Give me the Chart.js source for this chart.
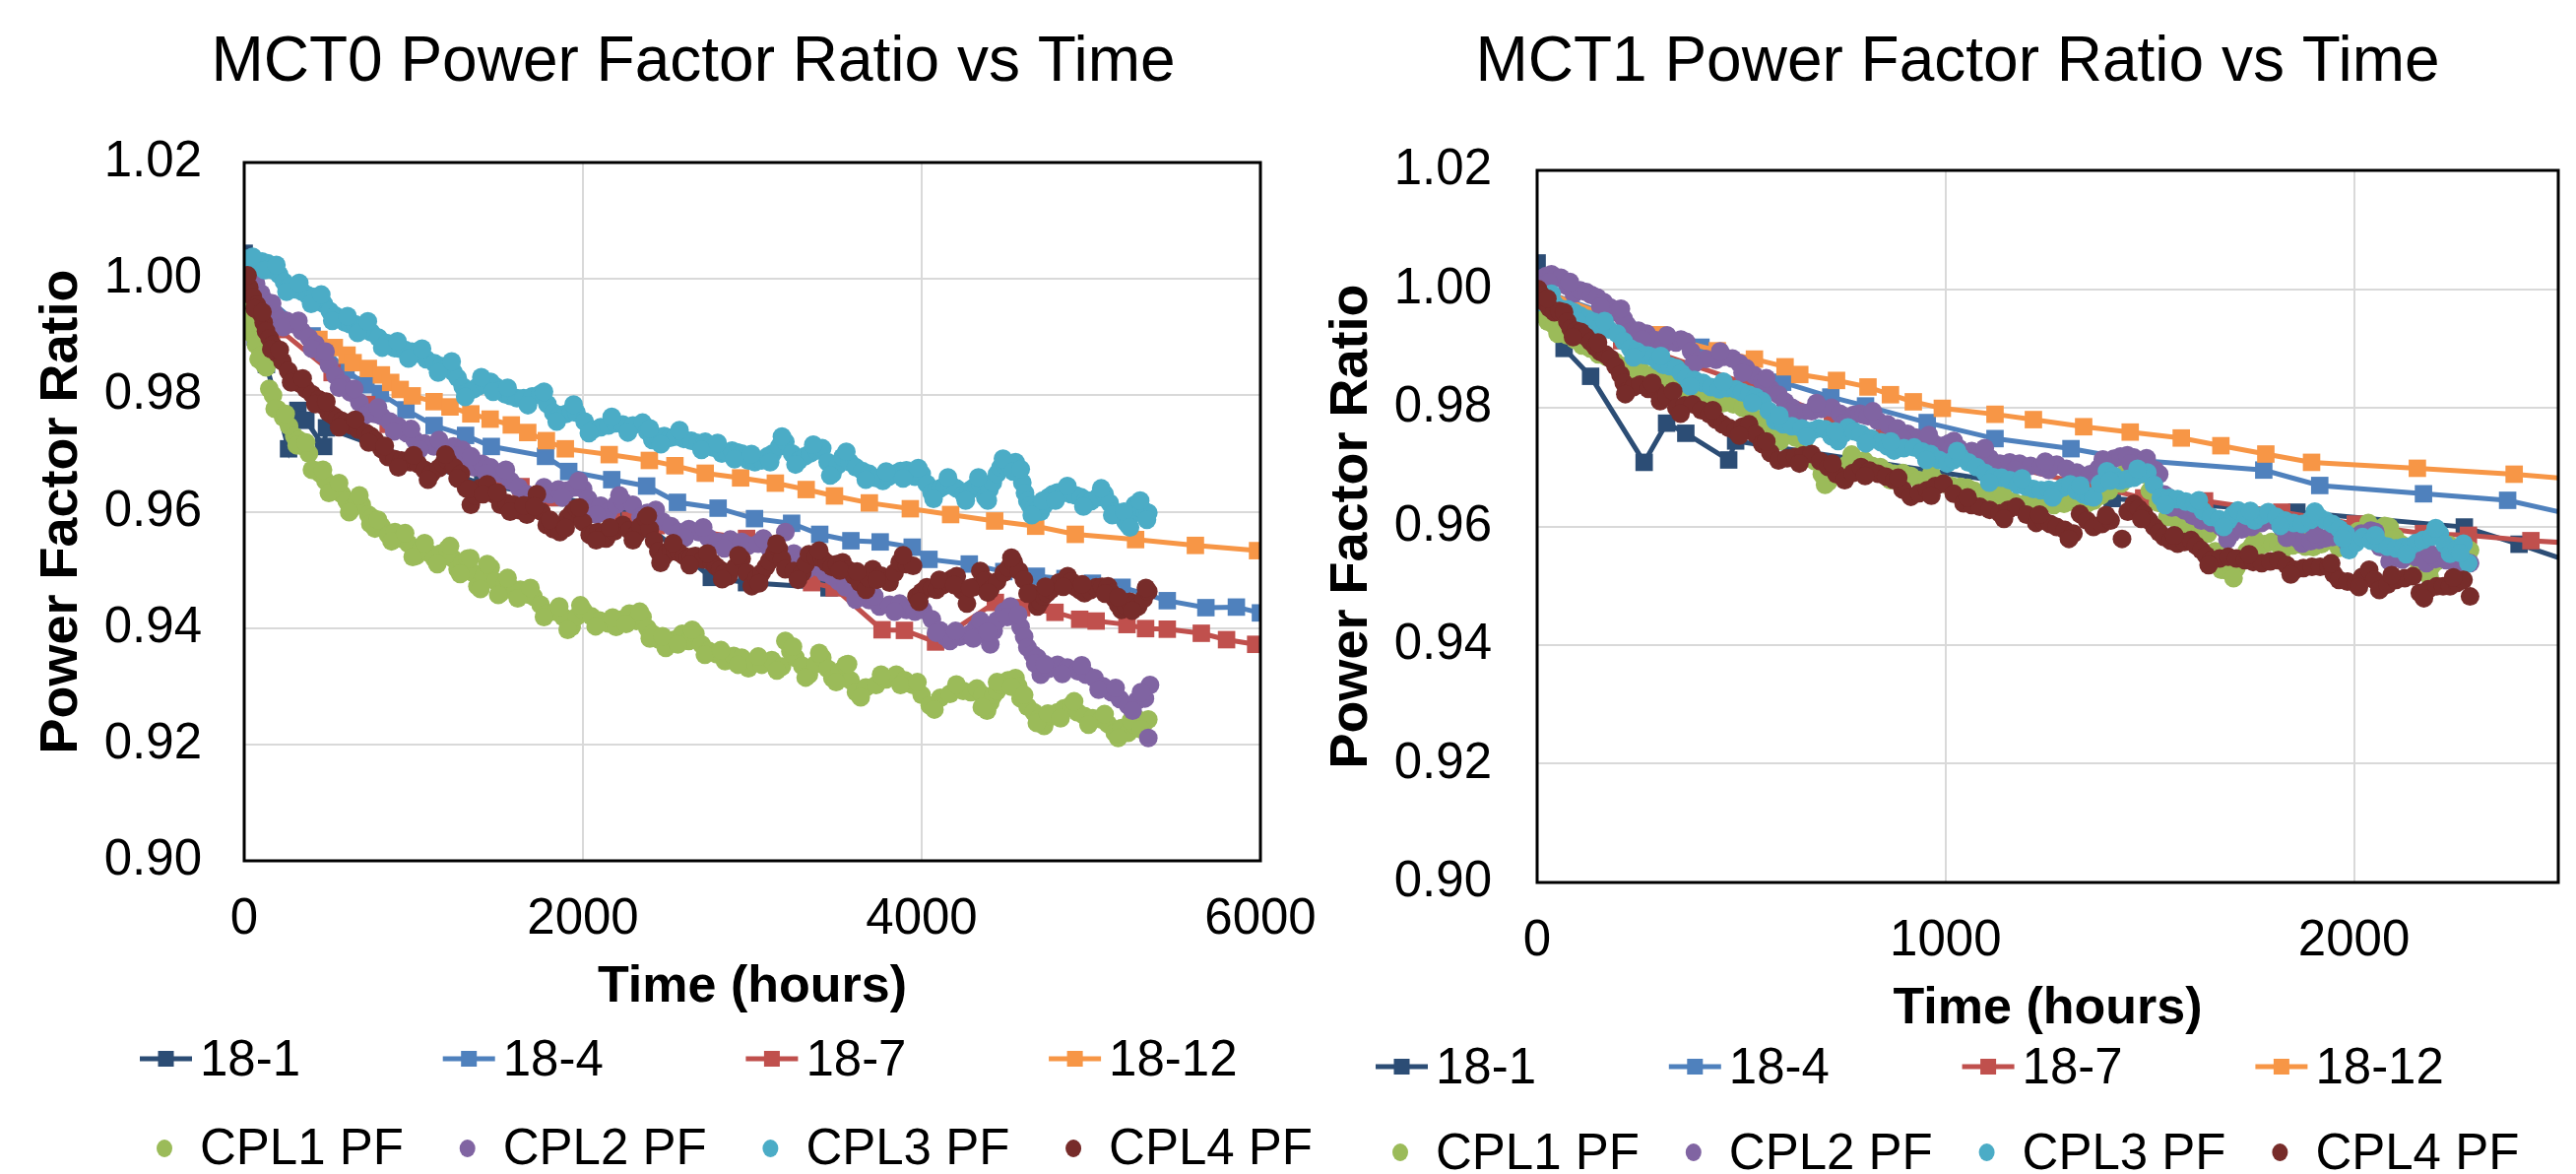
<!DOCTYPE html>
<html><head><meta charset="utf-8">
<script src="https://cdn.jsdelivr.net/npm/chart.js@4.4.1/dist/chart.umd.min.js"></script>
<style>
html,body{margin:0;padding:0;background:#fff;overflow:hidden}
#wrap{position:relative;width:2616px;height:1192px;background:#fff}
#c0{position:absolute;left:0;top:0;width:1400px;height:1192px}
#c1{position:absolute;left:1310px;top:0;width:1306px;height:1192px}
</style></head><body>
<div id="wrap"><canvas id="c0" width="1400" height="1192"></canvas><canvas id="c1" width="1306" height="1192"></canvas></div>
<script>
// ---------- DATA ----------
const titles = ['MCT0 Power Factor Ratio vs Time', 'MCT1 Power Factor Ratio vs Time'];
const xTitle = 'Time (hours)';
const yTitle = 'Power Factor Ratio';
const labels = ['18-1', '18-4', '18-7', '18-12', 'CPL1 PF', 'CPL2 PF', 'CPL3 PF', 'CPL4 PF'];
const colors = ['#2C4D75', '#4F81BD', '#C0504D', '#F79646', '#9BBB59', '#8064A2', '#4BACC6', '#772C2A'];
const yTicks = [0.90, 0.92, 0.94, 0.96, 0.98, 1.00, 1.02];
const xTicksLeft = [0, 2000, 4000, 6000];
const xTicksRight = [0, 1000, 2000];

// reference series (hours, ratio) - same in both panels
const s18_1 = [[0,1.0044],[66,0.9900],[131,0.9853],[262,0.9708],[317,0.9774],[364,0.9757],[469,0.9712],[486,0.9744],[1408,0.9647],[1486,0.9643],[1860,0.9624],[2270,0.9599],[2404,0.9570],[2758,0.9487],[2966,0.9478],[3453,0.9469]];
const s18_4 = [[0,1.0000],[401,0.9902],[601,0.9843],[719,0.9818],[804,0.9803],[955,0.9775],[1121,0.9748],[1307,0.9731],[1459,0.9712],[1779,0.9695],[1916,0.9669],[2170,0.9655],[2376,0.9644],[2558,0.9616],[2798,0.9606],[3013,0.9588],[3232,0.9580],[3398,0.9561],[3582,0.9550],[3755,0.9548],[3944,0.9539],[4043,0.9518],[4281,0.9510],[4485,0.9497],[4677,0.9489],[4846,0.9485],[5008,0.9477],[5183,0.9470],[5450,0.9447],[5678,0.9435],[5858,0.9436],[6000,0.9426]];
const s18_7 = [[0,1.0000],[207,0.9913],[519,0.9839],[723,0.9784],[850,0.9750],[1485,0.9648],[1634,0.9643],[1823,0.9624],[2003,0.9604],[2170,0.9588],[2280,0.9585],[2433,0.9576],[2966,0.9554],[3350,0.9478],[3483,0.9469],[3766,0.9397],[3898,0.9396],[4082,0.9376],[4435,0.9444],[4590,0.9435],[4787,0.9427],[4933,0.9415],[5030,0.9412],[5212,0.9406],[5322,0.9399],[5450,0.9398],[5651,0.9391],[5800,0.9380],[5972,0.9372]];
const s18_12 = [[0,1.0000],[294,0.9923],[441,0.9896],[532,0.9882],[607,0.9869],[643,0.9856],[733,0.9846],[810,0.9835],[865,0.9822],[921,0.9810],[992,0.9799],[1121,0.9789],[1215,0.9780],[1338,0.9768],[1452,0.9759],[1577,0.9749],[1674,0.9736],[1784,0.9722],[1896,0.9708],[2155,0.9698],[2392,0.9688],[2543,0.9679],[2722,0.9666],[2931,0.9658],[3136,0.9649],[3318,0.9638],[3485,0.9627],[3691,0.9615],[3933,0.9605],[4171,0.9595],[4431,0.9584],[4673,0.9575],[4907,0.9561],[5263,0.9552],[5616,0.9542],[5983,0.9533]];

// MCT0 measured series (band centre readings)
const mct0_cpl1 = [[0,0.9975],[15,0.9950],[31,0.9922],[50,0.9905],[70,0.9887],[95,0.9868],[119,0.9852],[148,0.9811],[170,0.9800],[197,0.9776],[230,0.9762],[265,0.9747],[295,0.9730],[324,0.9723],[350,0.9712],[382,0.9700],[421,0.9671],[450,0.9665],[480,0.9653],[519,0.9636],[550,0.9640],[577,0.9630],[605,0.9618],[636,0.9606],[665,0.9618],[694,0.9612],[733,0.9595],[755,0.9590],[772,0.9571],[810,0.9575],[850,0.9560],[890,0.9565],[928,0.9554],[970,0.9545],[1016,0.9524],[1045,0.9536],[1085,0.9530],[1123,0.9519],[1160,0.9528],[1201,0.9536],[1230,0.9520],[1260,0.9501],[1290,0.9512],[1318,0.9519],[1350,0.9495],[1377,0.9472],[1415,0.9490],[1455,0.9504],[1485,0.9480],[1513,0.9460],[1540,0.9475],[1570,0.9470],[1600,0.9462],[1630,0.9466],[1670,0.9458],[1708,0.9454],[1750,0.9440],[1786,0.9425],[1835,0.9428],[1884,0.9419],[1933,0.9402],[1965,0.9420],[2001,0.9431],[2050,0.9420],[2098,0.9413],[2150,0.9408],[2196,0.9402],[2235,0.9415],[2274,0.9425],[2315,0.9412],[2352,0.9419],[2380,0.9400],[2410,0.9390],[2450,0.9380],[2489,0.9366],[2540,0.9380],[2586,0.9390],[2625,0.9378],[2664,0.9390],[2700,0.9372],[2742,0.9361],[2790,0.9355],[2839,0.9343],[2890,0.9352],[2937,0.9349],[2977,0.9331],[3015,0.9340],[3056,0.9337],[3115,0.9345],[3175,0.9334],[3195,0.9378],[3225,0.9360],[3255,0.9349],[3295,0.9335],[3334,0.9320],[3375,0.9338],[3413,0.9349],[3445,0.9330],[3473,0.9314],[3515,0.9325],[3552,0.9337],[3580,0.9310],[3612,0.9290],[3670,0.9298],[3731,0.9302],[3790,0.9312],[3850,0.9320],[3900,0.9310],[3949,0.9302],[4000,0.9285],[4048,0.9267],[4110,0.9280],[4167,0.9287],[4245,0.9292],[4290,0.9290],[4326,0.9296],[4360,0.9285],[4386,0.9258],[4405,0.9272],[4425,0.9285],[4445,0.9292],[4465,0.9302],[4510,0.9310],[4554,0.9314],[4570,0.9300],[4584,0.9279],[4625,0.9265],[4663,0.9255],[4695,0.9245],[4723,0.9232],[4765,0.9248],[4802,0.9255],[4840,0.9262],[4882,0.9267],[4920,0.9255],[4961,0.9249],[5010,0.9245],[5060,0.9243],[5100,0.9235],[5140,0.9220],[5180,0.9228],[5219,0.9220],[5250,0.9235],[5278,0.9243],[5310,0.9235],[5338,0.9243]];
const mct0_cpl2 = [[0,1.0025],[20,1.0018],[40,1.0010],[70,0.9992],[100,0.9975],[125,0.9962],[150,0.9950],[180,0.9940],[207,0.9931],[250,0.9928],[294,0.9922],[340,0.9910],[382,0.9899],[420,0.9888],[460,0.9872],[500,0.9852],[538,0.9834],[580,0.9820],[626,0.9805],[680,0.9788],[733,0.9770],[770,0.9768],[811,0.9764],[860,0.9755],[909,0.9747],[960,0.9735],[1006,0.9723],[1065,0.9717],[1120,0.9712],[1182,0.9709],[1235,0.9712],[1289,0.9706],[1320,0.9690],[1357,0.9676],[1405,0.9682],[1455,0.9676],[1515,0.9665],[1572,0.9653],[1620,0.9642],[1669,0.9630],[1740,0.9628],[1806,0.9630],[1855,0.9638],[1903,0.9636],[1950,0.9642],[2001,0.9639],[2030,0.9622],[2059,0.9606],[2105,0.9610],[2150,0.9600],[2195,0.9612],[2235,0.9618],[2294,0.9612],[2380,0.9598],[2469,0.9583],[2520,0.9575],[2566,0.9565],[2625,0.9570],[2683,0.9565],[2740,0.9555],[2800,0.9548],[2870,0.9552],[2937,0.9548],[2977,0.9542],[3035,0.9545],[3096,0.9539],[3195,0.9565],[3245,0.9528],[3295,0.9519],[3340,0.9510],[3380,0.9505],[3430,0.9495],[3473,0.9489],[3510,0.9480],[3550,0.9470],[3590,0.9465],[3632,0.9460],[3690,0.9448],[3751,0.9437],[3810,0.9440],[3870,0.9442],[3910,0.9431],[3960,0.9428],[4008,0.9431],[4060,0.9415],[4108,0.9396],[4140,0.9385],[4167,0.9378],[4225,0.9385],[4286,0.9390],[4320,0.9400],[4346,0.9413],[4375,0.9390],[4405,0.9372],[4425,0.9395],[4445,0.9413],[4485,0.9428],[4524,0.9437],[4555,0.9420],[4584,0.9402],[4605,0.9385],[4624,0.9367],[4655,0.9355],[4683,0.9349],[4703,0.9320],[4750,0.9330],[4802,0.9337],[4860,0.9332],[4921,0.9326],[4970,0.9320],[5020,0.9314],[5070,0.9300],[5120,0.9290],[5170,0.9278],[5219,0.9267],[5270,0.9275],[5318,0.9279],[5348,0.9302],[5338,0.9211]];
const mct0_cpl3 = [[0,1.0035],[35,1.0028],[70,1.0022],[105,1.0030],[138,1.0027],[170,1.0015],[207,1.0007],[235,0.9995],[265,0.9987],[305,0.9982],[343,0.9978],[375,0.9972],[411,0.9969],[440,0.9962],[470,0.9957],[505,0.9945],[538,0.9937],[567,0.9930],[597,0.9925],[625,0.9922],[655,0.9922],[685,0.9918],[714,0.9919],[750,0.9908],[792,0.9899],[840,0.9890],[889,0.9881],[920,0.9880],[950,0.9878],[990,0.9875],[1026,0.9872],[1075,0.9862],[1123,0.9855],[1165,0.9850],[1211,0.9852],[1235,0.9840],[1260,0.9830],[1290,0.9815],[1318,0.9805],[1350,0.9810],[1380,0.9815],[1420,0.9820],[1455,0.9823],[1485,0.9815],[1510,0.9808],[1540,0.9802],[1572,0.9799],[1610,0.9795],[1650,0.9795],[1700,0.9798],[1747,0.9802],[1790,0.9785],[1825,0.9770],[1865,0.9766],[1900,0.9768],[1930,0.9772],[1962,0.9770],[2010,0.9755],[2059,0.9741],[2105,0.9745],[2150,0.9748],[2190,0.9752],[2235,0.9750],[2295,0.9748],[2352,0.9753],[2380,0.9738],[2410,0.9723],[2445,0.9728],[2480,0.9730],[2515,0.9727],[2547,0.9729],[2595,0.9725],[2640,0.9722],[2680,0.9718],[2722,0.9720],[2770,0.9710],[2820,0.9700],[2850,0.9702],[2880,0.9705],[2910,0.9702],[2937,0.9700],[2977,0.9688],[3015,0.9685],[3056,0.9688],[3090,0.9695],[3120,0.9700],[3160,0.9712],[3195,0.9720],[3235,0.9700],[3275,0.9688],[3310,0.9695],[3340,0.9700],[3380,0.9705],[3413,0.9709],[3445,0.9685],[3473,0.9665],[3505,0.9680],[3533,0.9694],[3575,0.9685],[3612,0.9676],[3650,0.9670],[3690,0.9665],[3730,0.9658],[3771,0.9653],[3805,0.9660],[3840,0.9665],[3875,0.9670],[3910,0.9671],[3935,0.9665],[3960,0.9660],[4000,0.9665],[4030,0.9648],[4058,0.9633],[4085,0.9636],[4110,0.9640],[4140,0.9645],[4167,0.9648],[4205,0.9640],[4247,0.9630],[4275,0.9635],[4300,0.9640],[4325,0.9645],[4346,0.9648],[4376,0.9624],[4400,0.9638],[4420,0.9650],[4445,0.9665],[4465,0.9676],[4490,0.9680],[4520,0.9680],[4554,0.9685],[4575,0.9668],[4594,0.9650],[4610,0.9632],[4624,0.9618],[4640,0.9610],[4660,0.9605],[4680,0.9602],[4703,0.9600],[4725,0.9612],[4750,0.9625],[4775,0.9630],[4802,0.9633],[4840,0.9632],[4882,0.9630],[4910,0.9628],[4940,0.9625],[4970,0.9620],[5001,0.9618],[5040,0.9625],[5080,0.9630],[5110,0.9615],[5140,0.9600],[5165,0.9595],[5190,0.9590],[5205,0.9582],[5219,0.9577],[5240,0.9595],[5259,0.9612],[5280,0.9608],[5300,0.9605],[5320,0.9600],[5338,0.9598]];
const mct0_cpl4 = [[0,1.0005],[12,1.0001],[30,0.9985],[51,0.9969],[75,0.9955],[99,0.9940],[115,0.9925],[129,0.9910],[150,0.9898],[168,0.9887],[195,0.9872],[226,0.9858],[260,0.9842],[294,0.9829],[330,0.9820],[363,0.9811],[400,0.9802],[441,0.9793],[470,0.9782],[499,0.9770],[525,0.9765],[548,0.9760],[575,0.9756],[597,0.9753],[635,0.9748],[675,0.9741],[720,0.9735],[748,0.9730],[772,0.9723],[810,0.9708],[850,0.9694],[890,0.9690],[928,0.9688],[955,0.9686],[980,0.9685],[1026,0.9682],[1065,0.9672],[1104,0.9665],[1150,0.9675],[1175,0.9682],[1201,0.9688],[1240,0.9676],[1279,0.9665],[1310,0.9640],[1338,0.9612],[1365,0.9628],[1390,0.9640],[1435,0.9647],[1475,0.9630],[1513,0.9612],[1550,0.9615],[1591,0.9612],[1630,0.9602],[1669,0.9595],[1700,0.9612],[1728,0.9630],[1755,0.9600],[1786,0.9577],[1825,0.9570],[1864,0.9565],[1885,0.9578],[1910,0.9590],[1935,0.9598],[1962,0.9606],[2000,0.9582],[2040,0.9560],[2065,0.9563],[2090,0.9565],[2115,0.9558],[2137,0.9554],[2185,0.9566],[2235,0.9577],[2275,0.9568],[2313,0.9560],[2340,0.9575],[2371,0.9589],[2395,0.9570],[2420,0.9550],[2445,0.9532],[2469,0.9519],[2495,0.9528],[2520,0.9535],[2545,0.9532],[2566,0.9530],[2595,0.9524],[2620,0.9520],[2640,0.9522],[2664,0.9524],[2710,0.9518],[2761,0.9513],[2785,0.9506],[2810,0.9500],[2835,0.9494],[2859,0.9489],[2900,0.9505],[2937,0.9519],[2967,0.9495],[2997,0.9472],[3025,0.9485],[3056,0.9495],[3080,0.9505],[3100,0.9515],[3130,0.9528],[3156,0.9536],[3175,0.9518],[3195,0.9501],[3245,0.9498],[3295,0.9495],[3315,0.9510],[3334,0.9527],[3375,0.9522],[3413,0.9519],[3440,0.9512],[3470,0.9505],[3500,0.9510],[3533,0.9513],[3565,0.9500],[3600,0.9490],[3635,0.9478],[3671,0.9466],[3690,0.9485],[3711,0.9501],[3760,0.9490],[3810,0.9478],[3840,0.9495],[3870,0.9513],[3910,0.9510],[3949,0.9507],[3969,0.9454],[4000,0.9462],[4030,0.9470],[4060,0.9468],[4088,0.9466],[4120,0.9473],[4150,0.9480],[4180,0.9485],[4207,0.9489],[4237,0.9465],[4267,0.9442],[4305,0.9470],[4346,0.9498],[4375,0.9482],[4405,0.9466],[4445,0.9480],[4485,0.9495],[4515,0.9504],[4544,0.9513],[4575,0.9498],[4604,0.9483],[4645,0.9460],[4683,0.9437],[4700,0.9446],[4720,0.9455],[4740,0.9460],[4763,0.9466],[4810,0.9478],[4862,0.9489],[4885,0.9480],[4910,0.9470],[4935,0.9465],[4961,0.9460],[4995,0.9465],[5030,0.9470],[5065,0.9471],[5100,0.9472],[5120,0.9460],[5140,0.9450],[5160,0.9440],[5179,0.9431],[5205,0.9438],[5230,0.9445],[5255,0.9441],[5278,0.9437],[5310,0.9450],[5338,0.9463]];
// MCT0 band-edge readings (upper / lower edge of each scatter band)
const mct0_cpl1_edge = [[40,0.9925],[85,0.9862],[130,0.9848],[180,0.9777],[245,0.9768],[310,0.9714],[365,0.9719],[400,0.9672],[465,0.9672],[500,0.9632],[560,0.9649],[620,0.9599],[680,0.9628],[745,0.9579],[790,0.9586],[870,0.9549],[950,0.9563],[995,0.9522],[1065,0.9546],[1140,0.9510],[1215,0.9541],[1275,0.9493],[1335,0.9520],[1395,0.9467],[1435,0.9510],[1500,0.9457],[1555,0.9486],[1615,0.9451],[1690,0.9469],[1770,0.9419],[1860,0.9437],[1910,0.9397],[1985,0.9439],[2075,0.9403],[2175,0.9418],[2255,0.9407],[2335,0.9428],[2395,0.9382],[2470,0.9386],[2560,0.9372],[2645,0.9397],[2720,0.9354],[2815,0.9362],[2915,0.9337],[3035,0.9351],[3145,0.9327],[3240,0.9368],[3315,0.9315],[3395,0.9357],[3495,0.9307],[3565,0.9338],[3640,0.9281],[3760,0.9320],[3875,0.9302],[3975,0.9307],[4075,0.9260],[4205,0.9303],[4355,0.9264],[4445,0.9307],[4530,0.9299],[4605,0.9285],[4680,0.9237],[4745,0.9253],[4820,0.9245],[4900,0.9274],[4985,0.9234],[5080,0.9252],[5160,0.9211],[5235,0.9241],[5295,0.9226]];
const mct0_cpl2_edge = [[30,1.0027],[85,0.9970],[165,0.9958],[230,0.9917],[320,0.9928],[400,0.9880],[480,0.9875],[560,0.9813],[650,0.9811],[710,0.9765],[790,0.9779],[885,0.9738],[985,0.9742],[1035,0.9707],[1150,0.9723],[1260,0.9696],[1340,0.9695],[1430,0.9666],[1545,0.9672],[1645,0.9623],[1770,0.9642],[1880,0.9624],[1975,0.9653],[2080,0.9595],[2215,0.9628],[2340,0.9591],[2430,0.9603],[2600,0.9555],[2710,0.9573],[2835,0.9537],[3065,0.9554],[3320,0.9500],[3450,0.9505],[3610,0.9449],[3720,0.9455],[3840,0.9428],[3985,0.9443],[4085,0.9392],[4200,0.9395],[4305,0.9382],[4390,0.9393],[4505,0.9419],[4570,0.9423],[4670,0.9339],[4725,0.9338],[4830,0.9321],[4945,0.9336],[5045,0.9294],[5145,0.9297],[5245,0.9258],[5295,0.9290]];
const mct0_cpl3_edge = [[50,1.0038],[120,1.0015],[190,1.0024],[250,0.9978],[325,0.9993],[395,0.9957],[455,0.9973],[520,0.9928],[610,0.9936],[670,0.9907],[730,0.9927],[815,0.9882],[905,0.9893],[970,0.9863],[1050,0.9880],[1145,0.9839],[1225,0.9858],[1305,0.9797],[1400,0.9831],[1470,0.9806],[1555,0.9813],[1675,0.9783],[1770,0.9806],[1845,0.9755],[1945,0.9784],[2035,0.9735],[2170,0.9763],[2265,0.9736],[2395,0.9743],[2460,0.9716],[2570,0.9740],[2700,0.9706],[2795,0.9718],[2895,0.9690],[2995,0.9699],[3105,0.9685],[3175,0.9729],[3255,0.9681],[3360,0.9715],[3460,0.9662],[3555,0.9703],[3670,0.9655],[3790,0.9669],[3890,0.9657],[3980,0.9675],[4070,0.9622],[4155,0.9659],[4260,0.9619],[4335,0.9659],[4390,0.9619],[4480,0.9691],[4540,0.9669],[4585,0.9673],[4650,0.9594],[4715,0.9619],[4790,0.9619],[4860,0.9644],[4955,0.9609],[5060,0.9640],[5125,0.9594],[5195,0.9600],[5230,0.9573],[5290,0.9619],[5330,0.9586]];
const mct0_cpl4_edge = [[20,1.0006],[62,0.9949],[108,0.9943],[160,0.9879],[210,0.9878],[277,0.9822],[345,0.9829],[420,0.9785],[485,0.9789],[560,0.9745],[655,0.9758],[735,0.9719],[830,0.9713],[910,0.9676],[1000,0.9697],[1085,0.9655],[1188,0.9698],[1260,0.9657],[1325,0.9639],[1410,0.9630],[1495,0.9633],[1570,0.9600],[1650,0.9611],[1715,0.9609],[1805,0.9586],[1898,0.9572],[1980,0.9607],[2078,0.9551],[2160,0.9573],[2295,0.9551],[2383,0.9593],[2458,0.9512],[2533,0.9546],[2630,0.9508],[2735,0.9528],[2822,0.9484],[2918,0.9525],[3040,0.9477],[3143,0.9545],[3270,0.9483],[3395,0.9533],[3517,0.9499],[3618,0.9497],[3735,0.9483],[3890,0.9525],[3985,0.9445],[4104,0.9483],[4193,0.9474],[4286,0.9469],[4390,0.9461],[4530,0.9521],[4625,0.9459],[4730,0.9471],[4836,0.9471],[4948,0.9475],[5083,0.9459],[5160,0.9453],[5243,0.9430],[5324,0.9469]];

// MCT1 measured series (band centre readings)
const mct1_cpl1 = [[10,0.9958],[26,0.9945],[42,0.9939],[58,0.9933],[74,0.9922],[92,0.9915],[110,0.9905],[130,0.9900],[150,0.9890],[170,0.9886],[190,0.9878],[210,0.9870],[228,0.9867],[255,0.9862],[280,0.9855],[302,0.9848],[325,0.9844],[345,0.9840],[365,0.9830],[385,0.9826],[406,0.9817],[430,0.9815],[455,0.9808],[480,0.9806],[503,0.9800],[525,0.9788],[545,0.9778],[565,0.9768],[583,0.9756],[608,0.9755],[632,0.9750],[655,0.9730],[680,0.9710],[697,0.9688],[713,0.9675],[737,0.9695],[760,0.9705],[780,0.9712],[801,0.9711],[820,0.9702],[840,0.9700],[857,0.9692],[874,0.9689],[895,0.9690],[915,0.9685],[935,0.9678],[955,0.9678],[975,0.9677],[995,0.9672],[1015,0.9668],[1036,0.9667],[1053,0.9665],[1070,0.9660],[1085,0.9655],[1101,0.9656],[1117,0.9648],[1133,0.9644],[1150,0.9645],[1165,0.9642],[1180,0.9637],[1197,0.9639],[1220,0.9643],[1240,0.9640],[1265,0.9636],[1290,0.9638],[1310,0.9642],[1330,0.9640],[1345,0.9638],[1362,0.9643],[1380,0.9652],[1400,0.9660],[1420,0.9678],[1440,0.9690],[1455,0.9702],[1469,0.9710],[1485,0.9688],[1500,0.9660],[1520,0.9640],[1543,0.9616],[1568,0.9610],[1593,0.9599],[1618,0.9596],[1642,0.9588],[1660,0.9558],[1675,0.9527],[1688,0.9526],[1700,0.9521],[1712,0.9530],[1725,0.9545],[1737,0.9558],[1749,0.9566],[1765,0.9565],[1780,0.9570],[1798,0.9574],[1815,0.9571],[1832,0.9567],[1850,0.9568],[1865,0.9570],[1881,0.9566],[1900,0.9565],[1920,0.9570],[1938,0.9576],[1955,0.9574],[1972,0.9578],[1990,0.9585],[2010,0.9592],[2029,0.9593],[2045,0.9597],[2060,0.9595],[2075,0.9601],[2087,0.9599],[2100,0.9582],[2115,0.9570],[2130,0.9558],[2144,0.9549],[2160,0.9532],[2177,0.9521],[2190,0.9533],[2200,0.9540],[2213,0.9550],[2226,0.9554],[2240,0.9560],[2255,0.9560],[2270,0.9564],[2284,0.9560]];
const mct1_cpl2 = [[10,1.0017],[22,1.0022],[35,1.0025],[46,1.0020],[58,1.0019],[74,1.0005],[90,0.9992],[105,0.9998],[120,0.9995],[133,0.9990],[147,0.9986],[163,0.9978],[179,0.9969],[195,0.9960],[212,0.9950],[220,0.9940],[228,0.9928],[248,0.9930],[268,0.9925],[288,0.9914],[309,0.9906],[325,0.9912],[340,0.9910],[352,0.9915],[365,0.9911],[377,0.9895],[389,0.9878],[413,0.9882],[438,0.9881],[458,0.9886],[478,0.9883],[495,0.9875],[511,0.9867],[531,0.9855],[551,0.9844],[571,0.9832],[591,0.9822],[607,0.9810],[624,0.9800],[648,0.9792],[672,0.9794],[696,0.9798],[721,0.9800],[741,0.9790],[761,0.9783],[775,0.9788],[790,0.9790],[800,0.9788],[810,0.9786],[834,0.9778],[858,0.9772],[882,0.9765],[907,0.9756],[927,0.9750],[947,0.9744],[971,0.9740],[995,0.9736],[1008,0.9740],[1020,0.9744],[1032,0.9732],[1044,0.9722],[1064,0.9727],[1084,0.9725],[1108,0.9715],[1133,0.9706],[1157,0.9708],[1181,0.9706],[1208,0.9702],[1234,0.9700],[1253,0.9695],[1272,0.9704],[1296,0.9697],[1321,0.9691],[1338,0.9685],[1354,0.9688],[1375,0.9698],[1395,0.9704],[1412,0.9714],[1428,0.9718],[1445,0.9720],[1461,0.9716],[1482,0.9708],[1502,0.9699],[1513,0.9695],[1523,0.9688],[1535,0.9654],[1548,0.9648],[1560,0.9640],[1572,0.9632],[1585,0.9627],[1605,0.9618],[1626,0.9610],[1650,0.9606],[1675,0.9599],[1688,0.9590],[1700,0.9588],[1725,0.9595],[1749,0.9599],[1774,0.9606],[1799,0.9610],[1823,0.9598],[1848,0.9588],[1860,0.9580],[1873,0.9571],[1894,0.9575],[1914,0.9577],[1930,0.9580],[1947,0.9582],[1970,0.9586],[1996,0.9582],[2018,0.9588],[2041,0.9593],[2064,0.9565],[2087,0.9541],[2108,0.9552],[2128,0.9560],[2152,0.9548],[2177,0.9538],[2200,0.9545],[2226,0.9543],[2247,0.9548],[2268,0.9543],[2284,0.9538]];
const mct1_cpl3 = [[0,0.9978],[13,0.9984],[26,0.9986],[42,0.9975],[58,0.9967],[74,0.9966],[90,0.9961],[106,0.9955],[123,0.9950],[139,0.9945],[155,0.9936],[175,0.9932],[196,0.9925],[212,0.9912],[228,0.9900],[244,0.9895],[260,0.9889],[272,0.9888],[285,0.9885],[297,0.9878],[309,0.9872],[325,0.9870],[341,0.9867],[353,0.9858],[365,0.9850],[385,0.9847],[406,0.9842],[426,0.9835],[446,0.9831],[466,0.9833],[486,0.9831],[502,0.9826],[519,0.9822],[535,0.9818],[551,0.9811],[567,0.9795],[583,0.9778],[603,0.9772],[624,0.9769],[648,0.9765],[672,0.9761],[689,0.9765],[705,0.9764],[721,0.9752],[737,0.9744],[749,0.9756],[761,0.9767],[777,0.9760],[793,0.9756],[818,0.9748],[842,0.9742],[858,0.9735],[874,0.9728],[898,0.9732],[923,0.9733],[943,0.9726],[963,0.9722],[984,0.9712],[1004,0.9706],[1020,0.9712],[1036,0.9717],[1056,0.9708],[1076,0.9700],[1097,0.9690],[1117,0.9683],[1137,0.9682],[1157,0.9678],[1177,0.9670],[1197,0.9667],[1215,0.9663],[1234,0.9661],[1253,0.9662],[1272,0.9660],[1288,0.9666],[1305,0.9671],[1321,0.9660],[1338,0.9654],[1350,0.9651],[1362,0.9649],[1378,0.9672],[1395,0.9693],[1412,0.9685],[1428,0.9677],[1445,0.9680],[1461,0.9682],[1478,0.9688],[1494,0.9691],[1510,0.9670],[1527,0.9649],[1548,0.9648],[1568,0.9646],[1588,0.9642],[1609,0.9638],[1630,0.9626],[1650,0.9616],[1670,0.9612],[1692,0.9610],[1704,0.9620],[1716,0.9627],[1736,0.9618],[1757,0.9610],[1774,0.9618],[1790,0.9624],[1810,0.9616],[1831,0.9610],[1852,0.9606],[1873,0.9604],[1894,0.9611],[1914,0.9616],[1930,0.9610],[1947,0.9604],[1964,0.9596],[1980,0.9588],[1988,0.9560],[2004,0.9572],[2021,0.9582],[2042,0.9576],[2062,0.9571],[2082,0.9566],[2103,0.9563],[2120,0.9565],[2136,0.9566],[2152,0.9572],[2169,0.9577],[2190,0.9583],[2210,0.9588],[2222,0.9570],[2235,0.9554],[2252,0.9563],[2268,0.9571],[2280,0.9538]];
const mct1_cpl4 = [[2,1.0000],[10,0.9990],[18,0.9978],[30,0.9968],[42,0.9961],[54,0.9963],[66,0.9961],[74,0.9945],[82,0.9933],[95,0.9930],[107,0.9928],[119,0.9920],[131,0.9911],[143,0.9902],[155,0.9894],[167,0.9890],[179,0.9883],[192,0.9870],[204,0.9856],[212,0.9842],[220,0.9828],[236,0.9835],[252,0.9839],[272,0.9832],[292,0.9828],[301,0.9811],[317,0.9820],[333,0.9828],[341,0.9800],[361,0.9804],[381,0.9806],[402,0.9796],[422,0.9789],[438,0.9780],[454,0.9772],[470,0.9766],[486,0.9761],[503,0.9768],[519,0.9772],[535,0.9755],[551,0.9739],[571,0.9724],[591,0.9711],[612,0.9715],[632,0.9717],[652,0.9720],[672,0.9722],[693,0.9710],[713,0.9700],[733,0.9688],[753,0.9678],[773,0.9690],[793,0.9700],[814,0.9694],[834,0.9689],[854,0.9684],[874,0.9678],[895,0.9662],[915,0.9650],[935,0.9656],[955,0.9661],[975,0.9668],[995,0.9672],[1020,0.9655],[1044,0.9639],[1064,0.9636],[1084,0.9633],[1108,0.9628],[1133,0.9622],[1153,0.9628],[1173,0.9633],[1198,0.9620],[1222,0.9606],[1239,0.9610],[1256,0.9604],[1272,0.9599],[1292,0.9594],[1313,0.9588],[1329,0.9621],[1346,0.9610],[1362,0.9599],[1383,0.9604],[1404,0.9610],[1432,0.9579],[1446,0.9625],[1461,0.9638],[1473,0.9630],[1486,0.9621],[1498,0.9610],[1511,0.9599],[1523,0.9590],[1535,0.9582],[1551,0.9576],[1568,0.9571],[1585,0.9574],[1601,0.9577],[1613,0.9568],[1626,0.9560],[1638,0.9551],[1650,0.9543],[1671,0.9546],[1692,0.9549],[1712,0.9546],[1733,0.9543],[1753,0.9540],[1774,0.9538],[1795,0.9541],[1815,0.9543],[1835,0.9535],[1856,0.9527],[1876,0.9530],[1897,0.9532],[1917,0.9532],[1938,0.9532],[1950,0.9520],[1963,0.9510],[1984,0.9507],[2004,0.9504],[2020,0.9515],[2037,0.9527],[2050,0.9510],[2062,0.9493],[2082,0.9502],[2103,0.9510],[2124,0.9513],[2144,0.9516],[2161,0.9488],[2182,0.9494],[2202,0.9499],[2218,0.9499],[2235,0.9499],[2252,0.9505],[2268,0.9510],[2284,0.9482]];
// MCT1 band-edge readings
const mct1_cpl1_edge = [[50,0.9925],[140,0.9906],[240,0.9854],[335,0.9853],[420,0.9805],[515,0.9806],[595,0.9744],[645,0.9752],[705,0.9670],[770,0.9721],[865,0.9678],[965,0.9689],[1060,0.9650],[1140,0.9656],[1230,0.9629],[1320,0.9653],[1430,0.9672],[1530,0.9640],[1605,0.9585],[1668,0.9552],[1705,0.9513],[1757,0.9578],[1823,0.9557],[1890,0.9578],[1963,0.9564],[2035,0.9606],[2093,0.9578],[2152,0.9552],[2185,0.9515],[2233,0.9569],[2278,0.9550]];
const mct1_cpl2_edge = [[28,1.0011],[80,1.0012],[155,0.9970],[205,0.9967],[258,0.9915],[318,0.9922],[383,0.9874],[448,0.9895],[503,0.9859],[561,0.9850],[615,0.9793],[684,0.9808],[751,0.9774],[822,0.9794],[894,0.9748],[959,0.9754],[1026,0.9726],[1096,0.9732],[1170,0.9695],[1244,0.9709],[1309,0.9682],[1385,0.9713],[1453,0.9706],[1492,0.9715],[1554,0.9632],[1615,0.9626],[1690,0.9578],[1761,0.9615],[1835,0.9581],[1904,0.9588],[1983,0.9572],[2052,0.9591],[2118,0.9544],[2188,0.9553],[2257,0.9533]];
const mct1_cpl3_edge = [[35,0.9992],[98,0.9946],[165,0.9946],[236,0.9885],[303,0.9887],[375,0.9836],[456,0.9844],[527,0.9808],[593,0.9787],[660,0.9751],[729,0.9760],[805,0.9740],[866,0.9743],[953,0.9712],[1028,0.9727],[1107,0.9674],[1187,0.9681],[1262,0.9649],[1330,0.9669],[1403,0.9677],[1470,0.9697],[1538,0.9636],[1620,0.9644],[1681,0.9599],[1746,0.9626],[1820,0.9601],[1904,0.9625],[1972,0.9580],[2052,0.9585],[2128,0.9553],[2200,0.9597],[2260,0.9555]];
const mct1_cpl4_edge = [[25,0.9984],[88,0.9919],[149,0.9910],[216,0.9823],[282,0.9842],[351,0.9790],[430,0.9796],[495,0.9753],[561,0.9743],[642,0.9706],[723,0.9706],[803,0.9685],[884,0.9682],[965,0.9652],[1054,0.9649],[1143,0.9613],[1230,0.9620],[1302,0.9579],[1393,0.9619],[1479,0.9613],[1560,0.9585],[1644,0.9535],[1743,0.9553],[1845,0.9519],[1944,0.9538],[2012,0.9498],[2092,0.9518],[2171,0.9479],[2243,0.9514]];

// ---------- RENDER ----------
const FONT = '"Liberation Sans", Arial, Helvetica, sans-serif';
const toXY = arr => arr.map(p => ({x: p[0], y: p[1]}));

const panelPlugin = {
  id: 'panel',
  afterDraw(chart, args, o) {
    const ctx = chart.ctx;
    const a = chart.chartArea;
    ctx.save();
    ctx.strokeStyle = '#000';
    ctx.lineWidth = 3;
    ctx.strokeRect(a.left, a.top, a.right - a.left, a.bottom - a.top);
    ctx.fillStyle = '#000';
    ctx.textAlign = 'center';
    ctx.textBaseline = 'alphabetic';
    ctx.font = '64px ' + FONT;
    ctx.fillText(o.title, o.titleX, o.titleBase);
    ctx.textAlign = 'left';
    ctx.font = '51px ' + FONT;
    chart.data.datasets.forEach((ds, i) => {
      const row = i < 4 ? 0 : 1;
      const tx = o.legX + (i % 4) * o.legStep;
      const base = o.legBase[row];
      const my = o.legMark[row];
      ctx.fillStyle = ds.borderColor;
      ctx.strokeStyle = ds.borderColor;
      if (ds.showLine) {
        ctx.lineWidth = 5;
        ctx.beginPath();
        ctx.moveTo(tx - 61, my);
        ctx.lineTo(tx - 8, my);
        ctx.stroke();
        ctx.fillRect(tx - 34.5 - 8, my - 8, 16, 16);
      } else {
        ctx.beginPath();
        ctx.ellipse(tx - 36, my, 8, 9, 0, 0, Math.PI * 2);
        ctx.fill();
      }
      ctx.fillStyle = '#000';
      ctx.fillText(ds.label, tx, base);
    });
    ctx.restore();
  }
};

function makeChart(id, cfg) {
  const series = [s18_1, s18_4, s18_7, s18_12].concat(cfg.cpl);
  const datasets = series.map((s, i) => {
    const isLine = i < 4;
    return {
      label: labels[i],
      data: toXY(s),
      showLine: isLine,
      borderColor: colors[i],
      backgroundColor: colors[i],
      borderWidth: isLine ? 5 : 0,
      pointStyle: isLine ? 'rect' : 'circle',
      pointRadius: isLine ? 12.5 : 9.5,
      pointBorderWidth: 0,
      pointBackgroundColor: colors[i],
      tension: 0,
      order: 8 - i
    };
  });
  return new Chart(document.getElementById(id), {
    type: 'scatter',
    data: { datasets },
    options: {
      responsive: false,
      devicePixelRatio: 1,
      animation: false,
      events: [],
      layout: { padding: { left: 0, right: cfg.padRight, top: cfg.padTop, bottom: cfg.padBottom } },
      plugins: {
        legend: { display: false },
        title: { display: false },
        tooltip: { enabled: false },
        panel: { title: cfg.title, titleX: cfg.titleX, titleBase: 82,
                 legX: cfg.legX, legStep: cfg.legStep, legBase: cfg.legBase, legMark: cfg.legMark }
      },
      scales: {
        x: {
          type: 'linear', min: 0, max: cfg.xMax,
          afterBuildTicks: s => { s.ticks = cfg.xTicks.map(v => ({value: v})); },
          ticks: { padding: 29, color: '#000', font: { family: FONT, size: 51 }, maxRotation: 0, autoSkip: false,
                   callback: v => String(v) },
          grid: { color: '#D9D9D9', lineWidth: 2, drawTicks: false },
          border: { display: false },
          title: { display: true, text: xTitle, color: '#000', font: { family: FONT, size: 52, weight: 'bold' },
                   padding: { top: 0, bottom: 10 } },
          afterFit: s => { s.height = 170; s.paddingLeft = 0; s.paddingRight = 0; }
        },
        y: {
          type: 'linear', min: 0.9, max: 1.02,
          afterBuildTicks: s => { s.ticks = yTicks.map(v => ({value: v})); },
          ticks: { padding: cfg.yPad, color: '#000', font: { family: FONT, size: 51 },
                   callback: v => Number(v).toFixed(2) },
          grid: { color: '#D9D9D9', lineWidth: 2, drawTicks: false },
          border: { display: false },
          title: { display: true, text: yTitle, color: '#000', font: { family: FONT, size: 54, weight: 'bold' },
                   padding: { top: 31, bottom: 0 } },
          afterFit: s => { s.width = cfg.yWidth; s.paddingTop = 0; s.paddingBottom = 0; }
        }
      }
    },
    plugins: [panelPlugin]
  });
}

makeChart('c0', {
  cpl: [mct0_cpl1.concat(mct0_cpl1_edge), mct0_cpl2.concat(mct0_cpl2_edge),
        mct0_cpl3.concat(mct0_cpl3_edge), mct0_cpl4.concat(mct0_cpl4_edge)],
  title: titles[0], titleX: 704,
  xMax: 6000, xTicks: xTicksLeft,
  padRight: 120, padTop: 165, padBottom: 148, yWidth: 248, yPad: 43,
  legX: 203, legStep: 307.7, legBase: [1092, 1182], legMark: [1075, 1166]
});
makeChart('c1', {
  cpl: [mct1_cpl1.concat(mct1_cpl1_edge), mct1_cpl2.concat(mct1_cpl2_edge),
        mct1_cpl3.concat(mct1_cpl3_edge), mct1_cpl4.concat(mct1_cpl4_edge)],
  title: titles[1], titleX: 678,
  xMax: 2500, xTicks: xTicksRight,
  padRight: 18, padTop: 173, padBottom: 126, yWidth: 251, yPad: 46,
  legX: 148, legStep: 297.8, legBase: [1100, 1187], legMark: [1083, 1170]
});
</script>
</body></html>
